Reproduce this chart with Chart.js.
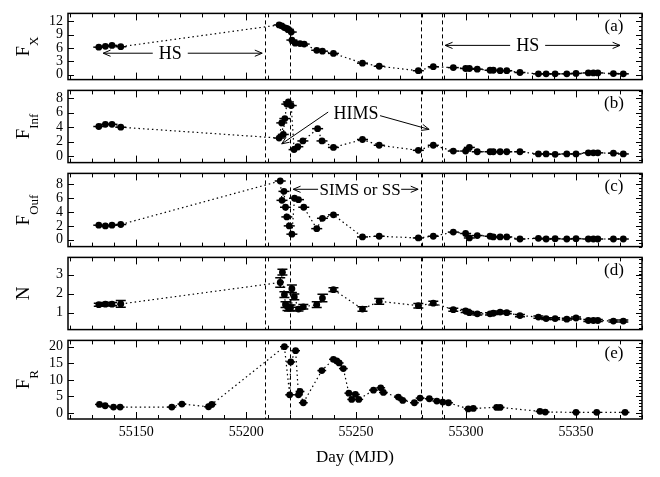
<!DOCTYPE html>
<html>
<head>
<meta charset="utf-8">
<script src="https://cdn.jsdelivr.net/npm/chart.js@4/dist/chart.umd.min.js"></script>
<style>
  body { margin: 0; background: #fff; }
  #wrap { position: relative; width: 660px; height: 477px; }
  #wrap canvas { position: absolute; left: 0; }
</style>
</head>
<body>
<div id="wrap">
  <canvas id="pa" width="660" height="93" style="top:0px"></canvas>
  <canvas id="pb" width="660" height="99" style="top:77px"></canvas>
  <canvas id="pc" width="660" height="100" style="top:160px"></canvas>
  <canvas id="pd" width="660" height="99" style="top:244px"></canvas>
  <canvas id="pe" width="660" height="150" style="top:327px"></canvas>
</div>
<script>
// Shared axis settings
const FONT = "'Liberation Serif', 'DejaVu Serif', serif";
const dayMin = 55119, dayMax = 55380;
const dayTicks = [55150, 55200, 55250, 55300, 55350];
const phaseDays = [55208.5, 55220, 55279.5, 55289];

// X-ray epochs (early HS and late decay are common to panels b-d)
const daysEarly = [55133, 55136, 55139, 55143];
const daysLate = [55278.3, 55285.1, 55294.2, 55299.8, 55301.5, 55305.1, 55310.9, 55312.4, 55315.5, 55318.5,
  55324.5, 55332.9, 55336.4, 55340.5, 55345.8, 55350, 55355.6, 55357.9, 55359.9, 55367, 55371.5];

// (a) F_X
const daysFx = [...daysEarly, 55215, 55216.2, 55217.4, 55218.5, 55219.2, 55220.5, 55220.8, 55222.3, 55224.5,
  55226.4, 55232.1, 55234.7, 55239.7, 55252.9, 55260.5, ...daysLate];
const fluxX = [6.2, 6.4, 6.6, 6.3, 11.2, 11.0, 10.6, 10.4, 10.2, 9.6, 7.8, 7.1, 7.0, 6.9, 5.5, 5.3, 4.8, 2.6, 1.9,
  0.9, 1.8, 1.6, 1.4, 1.4, 1.25, 1.0, 1.0, 0.9, 0.9, 0.5, 0.2, 0.2, 0.2, 0.2, 0.3, 0.4, 0.4, 0.4, 0.25, 0.2];

// (b) F_Inf
const daysInf = [...daysEarly, 55215, 55216.2, 55216.9, 55217.6, 55218.5, 55219.2, 55220.5, 55221.8, 55223.5,
  55225.8, 55232.5, 55234.5, 55239.7, 55252.9, 55260.5, ...daysLate];
const fluxInf = [4.1, 4.4, 4.4, 4.0, 2.5, 4.6, 3.0, 5.2, 7.2, 7.5, 7.0, 0.9, 1.3, 2.1, 3.8, 2.1, 1.2, 2.3, 1.5,
  0.8, 1.5, 0.7, 0.7, 1.2, 0.6, 0.6, 0.6, 0.6, 0.6, 0.6, 0.3, 0.3, 0.25, 0.3, 0.3, 0.45, 0.45, 0.45, 0.4, 0.3];

// (c) F_Ouf
const daysOuf = [...daysEarly, 55215.5, 55216.3, 55217.2, 55217.9, 55218.5, 55219.6, 55220.8, 55222, 55223.8,
  55226.2, 55232.1, 55234.7, 55239.7, 55252.9, 55260.5, ...daysLate];
const fluxOuf = [2.1, 2.0, 2.1, 2.2, 8.5, 5.7, 7.0, 4.7, 3.3, 2.0, 0.8, 6.0, 5.8, 4.7, 1.6, 3.1, 3.6, 0.4, 0.5,
  0.25, 0.5, 1.1, 0.9, 0.25, 0.6, 0.5, 0.4, 0.4, 0.4, 0.1, 0.2, 0.1, 0.15, 0.1, 0.15, 0.1, 0.1, 0.1, 0.1, 0.1];

// (d) N with errors
const daysN = [...daysEarly, 55215.5, 55216.5, 55217.4, 55217.9, 55218.8, 55219.5, 55220.2, 55220.8, 55221.9,
  55223.8, 55226, 55232.1, 55234.7, 55239.7, 55252.9, 55260.5, ...daysLate];
const valN = [1.41, 1.44, 1.44, 1.45, 2.58, 3.12, 1.94, 1.41, 1.3, 1.23, 1.25, 2.25, 1.82, 1.18, 1.3, 1.41, 1.76,
  2.2, 1.18, 1.59, 1.36, 1.49, 1.15, 1.08, 0.99, 0.93, 0.93, 0.96, 1.02, 0.99, 0.84, 0.76, 0.68, 0.68, 0.65,
  0.71, 0.58, 0.58, 0.58, 0.55, 0.55];
const errN = [0.08, 0.08, 0.08, 0.18, 0.25, 0.15, 0.15, 0.15, 0.2, 0.15, 0.15, 0.2, 0.15, 0.1, 0.12, 0.15, 0.2,
  0.1, 0.12, 0.15, 0.12, 0.1, 0.08, 0.08, 0.06, 0.06, 0.06, 0.06, 0.06, 0.06, 0.06, 0.06, 0.05, 0.05, 0.05,
  0.05, 0.05, 0.05, 0.05, 0.05, 0.05];

// (e) F_R optical
const daysR = [55133.3, 55135.9, 55139.7, 55142.7, 55166.2, 55170.8, 55182.9, 55184.4, 55217.4, 55219.8, 55220.3,
  55222.5, 55223.8, 55224.5, 55226, 55234.4, 55239.7, 55241.2, 55242.3, 55244.2, 55246.7, 55248, 55249.7,
  55251.2, 55257.9, 55261.2, 55262.4, 55269.2, 55271.2, 55276.5, 55279.1, 55283.3, 55286.7, 55289.4, 55292,
  55301, 55303.3, 55313.9, 55315.5, 55333.6, 55336, 55350, 55359.4, 55372.3];
const fluxR = [2.6, 2.2, 1.8, 1.8, 1.8, 2.7, 1.9, 2.6, 20.0, 5.5, 15.4, 18.8, 5.5, 6.5, 3.1, 12.8, 16.2, 15.7,
  15.1, 13.4, 6.0, 4.1, 5.6, 4.1, 6.9, 7.6, 6.2, 4.8, 3.8, 3.1, 4.5, 4.3, 3.6, 3.3, 3.1, 1.25, 1.4, 1.7, 1.7,
  0.5, 0.3, 0.2, 0.2, 0.2];

const panelCfg = {};

const panelPlugin = {
  id: 'panelFrame',
  beforeDatasetsDraw(chart) {
    const o = panelCfg[chart.canvas.id];
    const { ctx, chartArea: a, scales: { x, y } } = chart;
    ctx.save();
    ctx.strokeStyle = '#000';
    ctx.lineWidth = 1;
    ctx.setLineDash([4, 3]);
    phaseDays.forEach(d => {
      const px = Math.round(x.getPixelForValue(d)) + 0.5;
      ctx.beginPath(); ctx.moveTo(px, a.top); ctx.lineTo(px, a.bottom); ctx.stroke();
    });
    ctx.setLineDash([]);
    ctx.lineWidth = 1.5;
    o.days.forEach((d, i) => {
      const px = x.getPixelForValue(d), py = y.getPixelForValue(o.vals[i]);
      if (o.xErr) {
        ctx.beginPath();
        ctx.moveTo(x.getPixelForValue(d - o.xErr), py);
        ctx.lineTo(x.getPixelForValue(d + o.xErr), py);
        ctx.stroke();
      }
      if (o.yErr) {
        const y1 = y.getPixelForValue(o.vals[i] - o.yErr[i]), y2 = y.getPixelForValue(o.vals[i] + o.yErr[i]);
        ctx.beginPath();
        ctx.moveTo(px, y1); ctx.lineTo(px, y2);
        ctx.moveTo(px - 5, y1); ctx.lineTo(px + 5, y1);
        ctx.moveTo(px - 5, y2); ctx.lineTo(px + 5, y2);
        ctx.stroke();
      }
    });
    ctx.restore();
  },
  afterDraw(chart) {
    const o = panelCfg[chart.canvas.id];
    const { ctx, chartArea: a, scales: { x, y } } = chart;
    ctx.save();
    ctx.strokeStyle = '#000';
    ctx.fillStyle = '#000';
    ctx.lineWidth = 1.5;
    ctx.strokeRect(a.left, a.top, a.right - a.left, a.bottom - a.top);

    // inward ticks
    ctx.lineWidth = 1;
    ctx.beginPath();
    for (let d = 55120; d <= dayMax; d += 10) {
      const px = Math.round(x.getPixelForValue(d)) + 0.5;
      const len = d % 50 === 0 ? 7 : 4;
      ctx.moveTo(px, a.top); ctx.lineTo(px, a.top + len);
      ctx.moveTo(px, a.bottom); ctx.lineTo(px, a.bottom - len);
    }
    o.yTicks.forEach(v => {
      const py = Math.round(y.getPixelForValue(v)) + 0.5;
      ctx.moveTo(a.left, py); ctx.lineTo(a.left + 6, py);
      ctx.moveTo(a.right, py); ctx.lineTo(a.right - 6, py);
    });
    for (let v = Math.ceil(o.yMin / o.minor) * o.minor; v <= o.yMax; v += o.minor) {
      const py = Math.round(y.getPixelForValue(v)) + 0.5;
      ctx.moveTo(a.right, py); ctx.lineTo(a.right - 3, py);
    }
    ctx.stroke();

    // y title with subscript
    ctx.save();
    ctx.translate(28, (a.top + a.bottom) / 2);
    ctx.rotate(-Math.PI / 2);
    ctx.textAlign = 'left';
    ctx.textBaseline = 'alphabetic';
    ctx.font = `19px ${FONT}`;
    const w1 = ctx.measureText(o.title).width;
    ctx.font = `13px ${FONT}`;
    const w2 = o.sub ? ctx.measureText(o.sub).width : 0;
    const sx = -(w1 + w2) / 2;
    ctx.font = `19px ${FONT}`;
    ctx.fillText(o.title, sx, 1);
    if (o.sub) { ctx.font = `13px ${FONT}`; ctx.fillText(o.sub, sx + w1, 10); }
    ctx.restore();

    // panel tag
    ctx.font = `17px ${FONT}`;
    ctx.textAlign = 'center';
    ctx.textBaseline = 'middle';
    ctx.fillText(o.tag, a.right - 28, a.top + 13);

    // state annotations
    (o.notes || []).forEach(n => {
      if (n.text) {
        ctx.font = `${n.size || 17}px ${FONT}`;
        const px = x.getPixelForValue(n.x), py = y.getPixelForValue(n.y);
        if (n.bg) {
          const w = ctx.measureText(n.text).width;
          ctx.fillStyle = '#fff';
          ctx.fillRect(px - w / 2 - 6, py - 8, w + 12, 16);
          ctx.fillStyle = '#000';
        }
        ctx.fillText(n.text, px, py + 1);
      } else {
        const x1 = x.getPixelForValue(n.x1), y1 = y.getPixelForValue(n.y1);
        const x2 = x.getPixelForValue(n.x2), y2 = y.getPixelForValue(n.y2);
        ctx.lineWidth = 1;
        ctx.beginPath(); ctx.moveTo(x1, y1); ctx.lineTo(x2, y2);
        const head = (tx, ty, fx, fy) => {
          const ang = Math.atan2(ty - fy, tx - fx);
          ctx.moveTo(tx, ty); ctx.lineTo(tx - 8 * Math.cos(ang - 0.4), ty - 8 * Math.sin(ang - 0.4));
          ctx.moveTo(tx, ty); ctx.lineTo(tx - 8 * Math.cos(ang + 0.4), ty - 8 * Math.sin(ang + 0.4));
        };
        head(x2, y2, x1, y1);
        if (n.both) head(x1, y1, x2, y2);
        ctx.stroke();
      }
    });
    ctx.restore();
  }
};

function makePanel(id, days, vals, o) {
  o.days = days; o.vals = vals;
  panelCfg[id] = o;
  return new Chart(document.getElementById(id), {
    type: 'line',
    data: {
      datasets: [{
        data: days.map((d, i) => ({ x: d, y: vals[i] })),
        borderColor: '#000', borderWidth: 1.2, borderDash: [1.5, 3],
        pointRadius: 3.4, pointHoverRadius: 3.4, pointBackgroundColor: '#000', pointBorderWidth: 0,
        tension: 0, fill: false, clip: false
      }]
    },
    options: {
      responsive: false, animation: false, events: [],
      layout: { padding: { left: 0, right: 18, top: o.padTop, bottom: o.padBottom } },
      plugins: { legend: { display: false }, tooltip: { enabled: false } },
      scales: {
        x: {
          type: 'linear', min: dayMin, max: dayMax, display: !!o.showX,
          afterBuildTicks: s => { s.ticks = dayTicks.map(v => ({ value: v })); },
          afterFit: s => { if (o.showX) s.height = 58; },
          grid: { display: false, drawTicks: false }, border: { display: false },
          ticks: { color: '#000', font: { family: FONT, size: 14 }, padding: 5, maxRotation: 0, autoSkip: false,
            callback: v => String(v) },
          title: { display: !!o.showX, text: 'Day (MJD)', color: '#000', font: { family: FONT, size: 17 }, padding: { top: 4, bottom: 9 } }
        },
        y: {
          type: 'linear', min: o.yMin, max: o.yMax,
          afterBuildTicks: s => { s.ticks = o.yTicks.map(v => ({ value: v })); },
          afterFit: s => { s.width = 68; },
          grid: { display: false, drawTicks: false }, border: { display: false },
          ticks: { color: '#000', font: { family: FONT, size: 14 }, padding: 5, autoSkip: false }
        }
      }
    },
    plugins: [panelPlugin]
  });
}

makePanel('pa', daysFx, fluxX, {
  padTop: 2, padBottom: 8, yMin: -1.1, yMax: 13.8, yTicks: [0, 3, 6, 9, 12], minor: 1,
  title: 'F', sub: 'X', tag: '(a)', xErr: 2.5,
  notes: [
    { x1: 55165.5, y1: 4.84, x2: 55135, y2: 4.84 }, { x1: 55165.5, y1: 4.84, x2: 55207.3, y2: 4.84 },
    { text: 'HS', x: 55165.5, y: 4.84, bg: true, size: 18 },
    { x1: 55328, y1: 6.6, x2: 55290.5, y2: 6.6 }, { x1: 55328, y1: 6.6, x2: 55370, y2: 6.6 },
    { text: 'HS', x: 55328, y: 6.6, bg: true, size: 18 }
  ]
});
makePanel('pb', daysInf, fluxInf, {
  padTop: 8, padBottom: 8, yMin: -0.9, yMax: 9.1, yTicks: [0, 2, 4, 6, 8], minor: 0.5,
  title: 'F', sub: 'Inf', tag: '(b)', xErr: 2.5,
  notes: [
    { text: 'HIMS', x: 55250, y: 5.9, size: 18 },
    { x1: 55237.3, y1: 6.1, x2: 55216.2, y2: 1.7 },
    { x1: 55260.9, y1: 5.6, x2: 55283.2, y2: 3.7 }
  ]
});
makePanel('pc', daysOuf, fluxOuf, {
  padTop: 8, padBottom: 8, yMin: -1, yMax: 9.6, yTicks: [0, 2, 4, 6, 8], minor: 0.5,
  title: 'F', sub: 'Ouf', tag: '(c)', xErr: 2.5,
  notes: [
    { text: 'SIMS or SS', x: 55251.8, y: 7.3, size: 17 },
    { x1: 55232.7, y1: 7.3, x2: 55221.4, y2: 7.3 },
    { x1: 55270.5, y1: 7.3, x2: 55278.2, y2: 7.3 }
  ]
});
makePanel('pd', daysN, valN, {
  padTop: 8, padBottom: 8, yMin: 0.1, yMax: 3.9, yTicks: [1, 2, 3], minor: 0.2,
  title: 'N', sub: '', tag: '(d)', yErr: errN
});
makePanel('pe', daysR, fluxR, {
  padTop: 8, padBottom: 0, yMin: -1.8, yMax: 21.9, yTicks: [0, 5, 10, 15, 20], minor: 1,
  title: 'F', sub: 'R', tag: '(e)', xErr: 2, showX: true
});
</script>
</body>
</html>
